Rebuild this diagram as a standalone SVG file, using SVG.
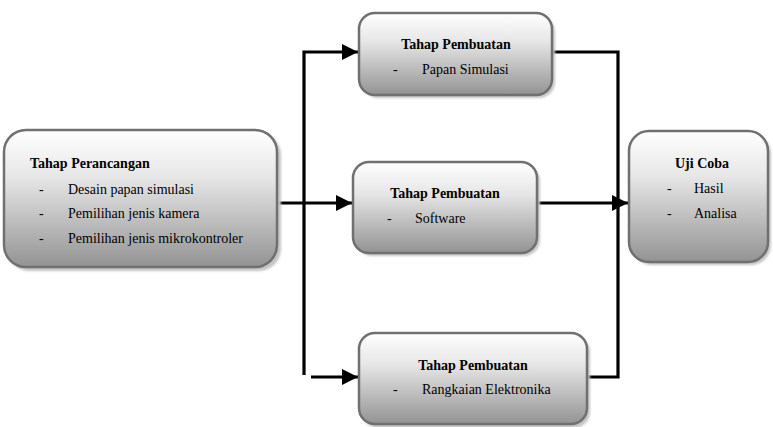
<svg xmlns="http://www.w3.org/2000/svg" width="773" height="427" viewBox="0 0 773 427">
  <defs>
    <linearGradient id="boxFill" x1="0" y1="0" x2="0" y2="1">
      <stop offset="0" stop-color="#ffffff"/>
      <stop offset="0.35" stop-color="#e6e6e6"/>
      <stop offset="1" stop-color="#939393"/>
    </linearGradient>
    <filter id="soft" x="-10%" y="-10%" width="120%" height="120%">
      <feGaussianBlur stdDeviation="1.2"/>
    </filter>
    <marker id="arrow" viewBox="0 0 16 16" refX="16" refY="8" markerWidth="16" markerHeight="16" markerUnits="userSpaceOnUse" orient="auto">
      <path d="M0,0 L16,8 L0,16 Z" fill="#000"/>
    </marker>
  </defs>
  <style>
    .shadow { fill: #c4c4c4; filter: url(#soft); }
    .box { fill: url(#boxFill); stroke: #707070; stroke-width: 2.5; }
    .title { font-family: "Liberation Serif", "Times New Roman", serif; font-size: 14px; font-weight: bold; fill: #000; }
    .item { font-family: "Liberation Serif", "Times New Roman", serif; font-size: 14px; fill: #000; }
    .wire { fill: none; stroke: #000; stroke-width: 3.2; }
  </style>

  <rect width="773" height="427" fill="#fff"/>

  <!-- connectors -->
  <g id="connectors">
    <path class="wire" d="M277,203 L352,203" marker-end="url(#arrow)"/>
    <path class="wire" d="M304,375 L304,52 L358,52" marker-end="url(#arrow)"/>
    <path class="wire" d="M311,377 L358,377" marker-end="url(#arrow)"/>
    <path class="wire" d="M552,52 L618,52 L618,377 L587,377"/>
    <path class="wire" d="M537,203 L628,203" marker-end="url(#arrow)"/>
  </g>

  <!-- design stage -->
  <g id="node-perancangan">
    <rect class="shadow" x="7" y="133" width="274" height="138" rx="22"/>
    <rect class="box" x="4" y="130" width="273" height="137" rx="22"/>
    <text class="title" x="30" y="168">Tahap Perancangan</text>
    <text class="item" x="39" y="194">-</text>
    <text class="item" x="68" y="194">Desain papan simulasi</text>
    <text class="item" x="39" y="218">-</text>
    <text class="item" x="68" y="218">Pemilihan jenis kamera</text>
    <text class="item" x="39" y="243">-</text>
    <text class="item" x="68" y="243">Pemilihan jenis mikrokontroler</text>
  </g>

  <!-- build stage: board -->
  <g id="node-papan">
    <rect class="shadow" x="362" y="16" width="193" height="82" rx="16"/>
    <rect class="box" x="359" y="13" width="193" height="82" rx="16"/>
    <text class="title" x="456" y="49" text-anchor="middle">Tahap Pembuatan</text>
    <text class="item" x="393" y="74">-</text>
    <text class="item" x="422" y="74">Papan Simulasi</text>
  </g>

  <!-- build stage: software -->
  <g id="node-software">
    <rect class="shadow" x="356" y="165" width="184" height="91" rx="16"/>
    <rect class="box" x="353" y="162" width="184" height="91" rx="16"/>
    <text class="title" x="445" y="198" text-anchor="middle">Tahap Pembuatan</text>
    <text class="item" x="387" y="223">-</text>
    <text class="item" x="415" y="223">Software</text>
  </g>

  <!-- build stage: electronics -->
  <g id="node-rangkaian">
    <rect class="shadow" x="362" y="336" width="228" height="92" rx="16"/>
    <rect class="box" x="359" y="333" width="228" height="91" rx="16"/>
    <text class="title" x="473" y="370" text-anchor="middle">Tahap Pembuatan</text>
    <text class="item" x="393" y="394">-</text>
    <text class="item" x="422" y="394">Rangkaian Elektronika</text>
  </g>

  <!-- test stage -->
  <g id="node-ujicoba">
    <rect class="shadow" x="632" y="134" width="139" height="131" rx="20"/>
    <rect class="box" x="629" y="131" width="139" height="131" rx="20"/>
    <text class="title" x="702" y="168" text-anchor="middle">Uji Coba</text>
    <text class="item" x="667" y="193">-</text>
    <text class="item" x="694" y="193">Hasil</text>
    <text class="item" x="667" y="218">-</text>
    <text class="item" x="694" y="218">Analisa</text>
  </g>
</svg>
